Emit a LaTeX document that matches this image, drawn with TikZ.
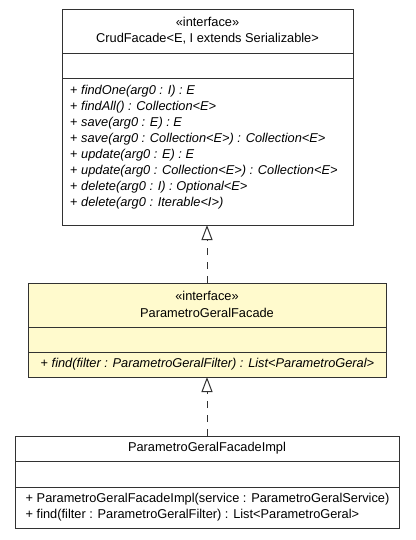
\documentclass[tikz,border=0pt]{standalone}
\usepackage{fontspec}
\setmainfont{Liberation Sans}
\usetikzlibrary{arrows.meta}
\definecolor{boxline}{RGB}{50,50,50}
\definecolor{ifill}{RGB}{255,250,205}
\tikzset{
  umlbox/.style={draw=boxline, line width=1pt},
  txt/.style={inner sep=0pt, font=\fontsize{12.8}{14}\selectfont},
  meth/.style={txt, anchor=west},
  real/.style={draw=boxline, line width=1pt, dash pattern=on 7pt off 7pt, -{Triangle[open, length=15pt, width=11pt, line width=1pt]}}
}
\begin{document}
\begin{tikzpicture}[x=1pt,y=-1pt]
\useasboundingbox (0,0) rectangle (415,540);
% top box
\draw[umlbox, fill=white] (62,10) rectangle (353,225);
\draw[umlbox] (62,54) -- (353,54);
\draw[umlbox] (62,79) -- (353,79);
\node[txt] (t1) at (207.5,22) {«interface»};
\node[txt] (t2) at (207.5,38.5) {CrudFacade<E, I extends Serializable>};
\node[meth] (m1) at (70,91.5) {+ \textit{findOne(arg0 : I) : E}};
\node[meth] (m2) at (70,107.5) {+ \textit{findAll() : Collection<E>}};
\node[meth] (m3) at (70,123.5) {+ \textit{save(arg0 : E) : E}};
\node[meth] (m4) at (70,139.5) {+ \textit{save(arg0 : Collection<E>) : Collection<E>}};
\node[meth] (m5) at (70,155.5) {+ \textit{update(arg0 : E) : E}};
\node[meth] (m6) at (70,171.5) {+ \textit{update(arg0 : Collection<E>) : Collection<E>}};
\node[meth] (m7) at (70,187.5) {+ \textit{delete(arg0 : I) : Optional<E>}};
\node[meth] (m8) at (70,203.5) {+ \textit{delete(arg0 : Iterable<I>)}};
\coordinate (topb) at (207,225);
% middle box
\draw[umlbox, fill=ifill] (28,283) rectangle (386,377);
\draw[umlbox] (28,327) -- (386,327);
\draw[umlbox] (28,352) -- (386,352);
\node[txt] (i1) at (207,296) {«interface»};
\node[txt] (i2) at (207,312.5) {ParametroGeralFacade};
\node[meth] (im1) at (40.5,364.5) {+ \textit{find(filter : ParametroGeralFilter) : List<ParametroGeral>}};
\coordinate (midt) at (207,283);
\coordinate (midb) at (207,377);
% bottom box
\draw[umlbox, fill=white] (15,436) rectangle (399,528);
\draw[umlbox] (15,461) -- (399,461);
\draw[umlbox] (15,487) -- (399,487);
\node[txt] (b1) at (207,448.5) {ParametroGeralFacadeImpl};
\node[meth] (bm1) at (25.5,499.5) {+ ParametroGeralFacadeImpl(service : ParametroGeralService)};
\node[meth] (bm2) at (25.5,515.5) {+ find(filter : ParametroGeralFilter) : List<ParametroGeral>};
\coordinate (bott) at (207,436);
% realizations
\draw[real] (midt) -- (topb);
\draw[real] (bott) -- (midb);
\end{tikzpicture}
\end{document}
